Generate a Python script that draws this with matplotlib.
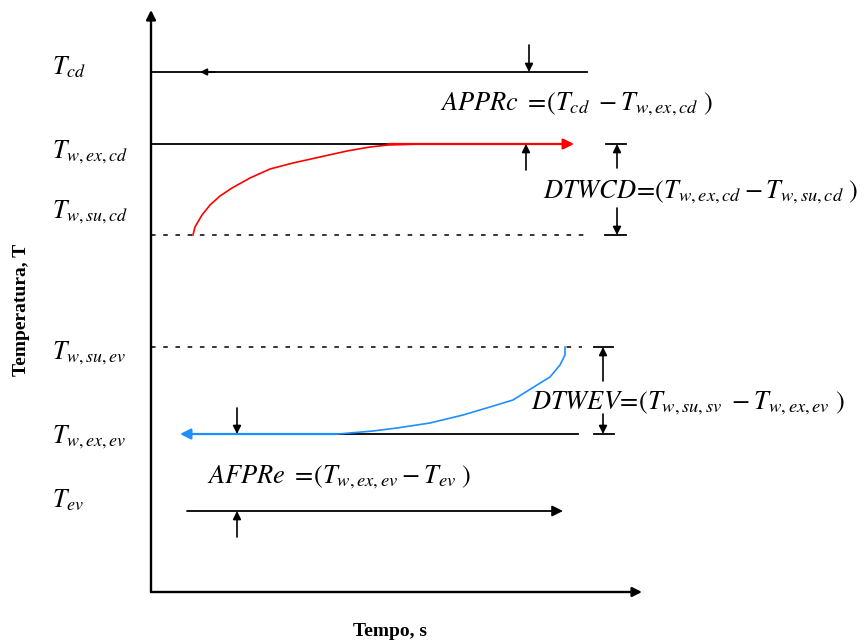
import numpy as np
import matplotlib.pyplot as plt

plt.rcParams['mathtext.fontset'] = 'stix'
plt.rcParams['font.family'] = ['Liberation Serif', 'DejaVu Serif']

# temperature levels (pixel-like vertical scale, top = hot)
level_labels = [r'$T_{cd}$', r'$T_{w,ex,cd}$', r'$T_{w,su,cd}$',
                r'$T_{w,su,ev}$', r'$T_{w,ex,ev}$', r'$T_{ev}$']
level_y = [72, 144, 235, 347, 434, 511]
label_y = [67, 152, 212, 353, 437, 500]

# water curves (time, temperature)
red_t = [193, 195, 202, 210, 220, 232, 250, 270, 293, 320, 347, 370, 388, 420]
red_T = [235, 227, 215, 205, 196, 188, 178, 169, 163, 157, 151, 147, 145, 144]
blue_t = [565, 565, 560, 550, 537, 513, 490, 463, 430, 397, 373, 338]
blue_T = [347, 355, 365, 377, 385, 400, 407, 415, 423, 428, 431, 434]

fig = plt.figure(figsize=(8.65, 6.43), dpi=100)
ax = fig.add_axes([0, 0, 1, 1])
ax.set_xlim(0, 865)
ax.set_ylim(643, 0)
ax.axis('off')

def arrow(x0, y0, x1, y1, c='k', lw=1.2, ms=12):
    ax.annotate('', xy=(x1, y1), xytext=(x0, y0),
                arrowprops=dict(arrowstyle='-|>', color=c, lw=lw,
                                mutation_scale=ms, shrinkA=0, shrinkB=0))

# axes
arrow(151, 592, 151, 10, lw=1.7, ms=14)
arrow(151, 592, 642, 592, lw=1.7, ms=14)

# level lines
Tcd, Twexcd, Twsucd, Twsuev, Twexev, Tev = level_y
ax.plot([151, 587], [Tcd, Tcd], color='k', lw=1.3)
arrow(215, Tcd, 200, Tcd, ms=10)
ax.plot([151, 420], [Twexcd, Twexcd], color='k', lw=1.3)
arrow(388, Twexcd, 574, Twexcd, c='red', lw=1.6, ms=16)
ax.plot([151, 588], [Twsucd, Twsucd], color='k', lw=1.1, ls=(0, (3, 5)))
ax.plot([151, 582], [Twsuev, Twsuev], color='k', lw=1.1, ls=(0, (3, 5)))
ax.plot([337, 578], [Twexev, Twexev], color='k', lw=1.3)
arrow(337, Twexev, 180, Twexev, c='#1e8fff', lw=1.6, ms=16)
arrow(187, Tev, 563, Tev, lw=1.3, ms=16)

ax.plot(red_t, red_T, color='red', lw=1.2)
ax.plot(blue_t, blue_T, color='#1e8fff', lw=1.2)

# difference markers
arrow(529, 45, 529, Tcd)
arrow(526, 170, 526, Twexcd)
arrow(617, 168, 617, Twexcd)
ax.plot([606, 626], [Twexcd, Twexcd], color='k', lw=1.3)
arrow(617, 208, 617, Twsucd)
ax.plot([605, 626], [Twsucd, Twsucd], color='k', lw=1.3)
arrow(603, 381, 603, Twsuev)
ax.plot([594, 613], [Twsuev, Twsuev], color='k', lw=1.3)
arrow(603, 414, 603, Twexev)
ax.plot([594, 614], [Twexev, Twexev], color='k', lw=1.3)
arrow(237, 408, 237, Twexev)
arrow(237, 537, 237, Tev)

for lab, yy in zip(level_labels, label_y):
    ax.text(52, yy, lab, fontsize=18.5, va='center', ha='left')

fs = 19
ax.text(440, 110, r'$APPRc\ =\!( T_{cd}\ - T_{w,ex,cd}\ )$', fontsize=fs, va='baseline')
ax.text(543, 198, r'$DTWCD\!=\!( T_{w,ex,cd} - T_{w,su,cd}\ )$', fontsize=fs, va='baseline')
ax.text(531, 409, r'$DTWEV\!=\!( T_{w,su,sv}\ - T_{w,ex,ev}\ )$', fontsize=fs, va='baseline')
ax.text(207, 483, r'$AFPRe\ =\!( T_{w,ex,ev} - T_{ev}\ )$', fontsize=fs, va='baseline')

ax.text(22, 310, 'Temperatura, T', rotation=90, fontsize=14, fontweight='bold',
        va='center', ha='center')
ax.text(390, 631, 'Tempo, s', fontsize=14, fontweight='bold', va='center', ha='center')

fig.savefig('out.png', dpi=100)
